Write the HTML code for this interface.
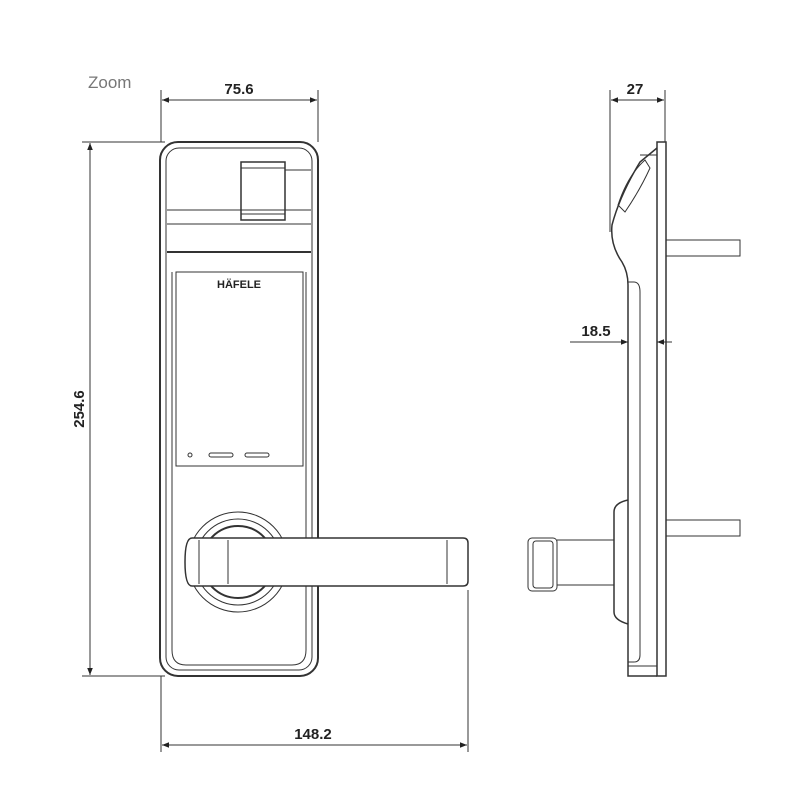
<!DOCTYPE html>
<html><head><style>body{margin:0;background:#fff}svg{display:block}</style></head><body>
<svg width="800" height="800" viewBox="0 0 800 800" xmlns="http://www.w3.org/2000/svg" font-family="Liberation Sans, sans-serif">
<defs><marker id="a" viewBox="0 0 10 10" refX="10" refY="5" markerWidth="7" markerHeight="7" orient="auto-start-reverse"><path d="M0,1L10,5L0,9z" fill="#222"/></marker></defs>
<text x="88" y="88" font-size="17" fill="#777">Zoom</text>
<g stroke="#333" fill="none" stroke-width="1">
<!-- dimensions front -->
<line x1="161" y1="90" x2="161" y2="142"/><line x1="318" y1="90" x2="318" y2="142"/>
<line x1="162" y1="100" x2="317" y2="100" marker-start="url(#a)" marker-end="url(#a)"/>
<line x1="82" y1="142" x2="165" y2="142"/><line x1="82" y1="676" x2="165" y2="676"/>
<line x1="90" y1="143" x2="90" y2="675" marker-start="url(#a)" marker-end="url(#a)"/>
<line x1="161" y1="676" x2="161" y2="752"/><line x1="468" y1="590" x2="468" y2="752"/>
<line x1="162" y1="745" x2="467" y2="745" marker-start="url(#a)" marker-end="url(#a)"/>
<!-- front body -->
<rect x="160" y="142" width="158" height="534" rx="18" stroke-width="2"/>
<rect x="166" y="148" width="146" height="522" rx="13"/>
<line x1="167" y1="210" x2="311" y2="210"/><line x1="167" y1="224" x2="311" y2="224"/>
<line x1="167" y1="252" x2="311" y2="252" stroke-width="2"/>
<line x1="285" y1="170" x2="311" y2="170"/>
<rect x="241" y="162" width="44" height="58" stroke-width="1.5"/>
<line x1="241" y1="168" x2="285" y2="168"/><line x1="241" y1="214" x2="285" y2="214"/>
<rect x="176" y="272" width="127" height="194"/>
<path d="M172 272V650Q172 665 186 665H292Q306 665 306 650V272"/>
<circle cx="190" cy="455" r="2"/>
<rect x="209" y="453" width="24" height="4" rx="2"/><rect x="245" y="453" width="24" height="4" rx="2"/>
<!-- rose -->
<circle cx="238" cy="562" r="50" fill="#fff"/><circle cx="238" cy="562" r="43"/><circle cx="238" cy="562" r="36" stroke-width="2"/>
<!-- lever -->
<path d="M192 538H463Q468 538 468 543V581Q468 586 463 586H192Q185 586 185 562Q185 538 192 538Z" fill="#fff" stroke-width="1.5"/>
<line x1="447" y1="540" x2="447" y2="584"/><line x1="199" y1="540" x2="199" y2="584"/><line x1="228" y1="540" x2="228" y2="584"/>
<!-- side view -->
<line x1="610" y1="90" x2="610" y2="232"/><line x1="665" y1="90" x2="665" y2="142"/>
<line x1="611" y1="100" x2="664" y2="100" marker-start="url(#a)" marker-end="url(#a)"/>
<rect x="657" y="142" width="9" height="534" stroke-width="1.5"/>
<path d="M657 148L640 162Q620 195 612 225Q610 245 622 262Q628 272 628 285V676H657" stroke-width="1.5"/>
<path d="M618 205Q628 175 645 160L650 168Q640 190 625 212Z"/>
<path d="M628 282H634Q640 282 640 292V655Q640 662 634 662H628"/>
<line x1="628" y1="666" x2="657" y2="666"/><line x1="640" y1="155" x2="657" y2="155"/>
<rect x="666" y="240" width="74" height="16"/><rect x="666" y="520" width="74" height="16"/>
<path d="M628 500Q614 503 614 512V612Q614 620 628 624" stroke-width="1.5"/>
<line x1="557" y1="540" x2="614" y2="540"/><line x1="557" y1="585" x2="614" y2="585"/>
<rect x="528" y="538" width="29" height="53" rx="4"/><rect x="533" y="541" width="20" height="47" rx="3"/>
<line x1="570" y1="342" x2="626" y2="342"/>
<line x1="620" y1="342" x2="628" y2="342" marker-end="url(#a)"/>
<line x1="672" y1="342" x2="657" y2="342" marker-end="url(#a)"/>
</g>
<g font-weight="bold" font-size="15" fill="#222" text-anchor="middle">
<text x="239" y="94">75.6</text>
<text x="635" y="94">27</text>
<text x="596" y="336">18.5</text>
<text x="313" y="739">148.2</text>
<text transform="translate(84,409) rotate(-90)">254.6</text>
<text x="239" y="288" font-size="11">HÄFELE</text>
</g>
</svg>
</body></html>
